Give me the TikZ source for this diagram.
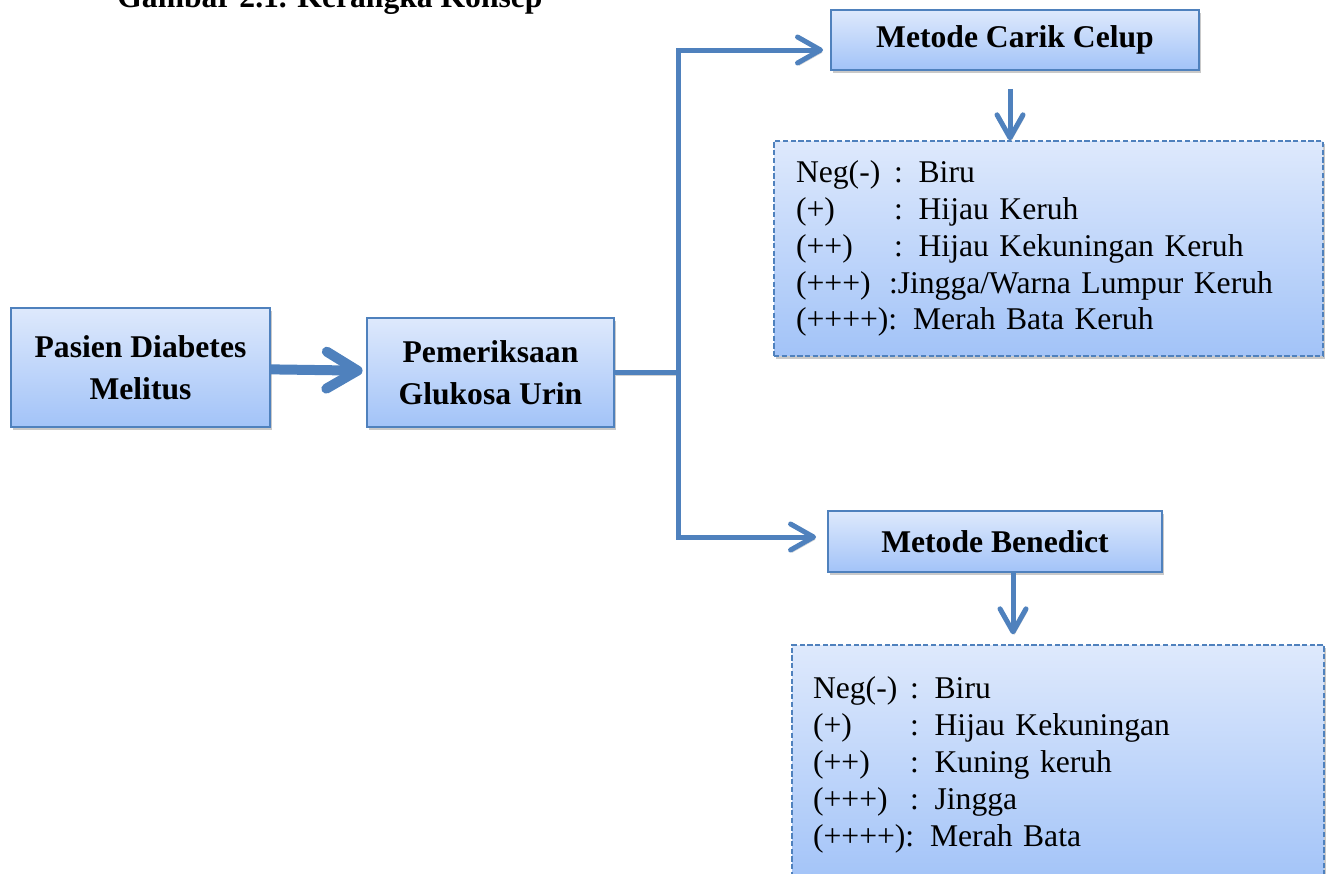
\documentclass[tikz,border=0pt]{standalone}
\usepackage{fontspec}
\setmainfont{Liberation Serif}
\usepackage{xcolor}
\usepackage{tikz}
\usetikzlibrary{arrows.meta, positioning, calc, shadows}
\definecolor{linecol}{RGB}{79, 129, 189}
\definecolor{boxtop}{RGB}{222, 233, 252}
\definecolor{boxbot}{RGB}{162, 195, 248}
\newcommand{\hasilrow}[3][1.96cm]{\makebox[#1][l]{#2}#3\\}

\begin{document}
\begin{tikzpicture}[
    x=0.02cm, y=-0.02cm,
    box/.style={draw=linecol, line width=1.1pt, top color=boxtop, bottom color=boxbot, align=center,
        font=\fontsize{18}{24}\selectfont\bfseries, inner sep=0pt,
        drop shadow={shadow xshift=1.2pt, shadow yshift=-1.8pt, opacity=0.3, fill=black!70}},
    hasil/.style={box, dashed, dash pattern=on 3pt off 1.4pt, line width=0.8pt, align=left,
        font=\fontsize{18}{21}\selectfont, inner ysep=0pt},
    conn/.style={draw=linecol, line width=0.1cm, line join=miter,
        preaction={draw=black!18, transform canvas={shift={(0.8pt,-1.4pt)}}}},
    arrow/.style={conn, -{Straight Barb[length=0.46cm, width=0.52cm, round]}},
    bigarrow/.style={conn, line width=0.2cm, -{Straight Barb[length=0.62cm, width=0.74cm, round]}}
]
    \useasboundingbox (0,0) rectangle (1332,873);

    % Title (cut by the page edge)
    \node[anchor=base west, inner sep=0pt, font=\fontsize{18}{21}\selectfont\bfseries] (judul) at (117,7) {Gambar 2.1. Kerangka Konsep};

    % Main entities
    \node[box, minimum width=5.18cm, minimum height=2.38cm] (pasien) at (140.5,367.5) {Pasien Diabetes\\Melitus};
    \node[box, minimum width=4.94cm, minimum height=2.18cm] (periksa) at (490.5,372.5) {Pemeriksaan\\Glukosa Urin};
    \node[box, minimum width=7.36cm, minimum height=1.2cm] (carik) at (1015,40) {Metode Carik Celup};
    \node[box, minimum width=6.68cm, minimum height=1.22cm] (benedict) at (995,541.5) {Metode Benedict};

    % Results
    \node[hasil, minimum width=10.98cm, minimum height=4.3cm, inner xsep=0.44cm, text width=10.1cm] (hasil1) at (1048.5,248.5) {%
        \hasilrow{Neg(-)}{: Biru}
        \hasilrow{(+)}{: Hijau Keruh}
        \hasilrow{(++)}{: Hijau Kekuningan Keruh}
        \hasilrow[1.86cm]{(+++)}{:Jingga/Warna Lumpur Keruh}
        (++++): Merah Bata Keruh};
    \node[hasil, minimum width=10.64cm, minimum height=4.8cm, inner xsep=0.42cm, text width=9.8cm] (hasil2) at (1058,765) {%
        \hasilrow[1.94cm]{Neg(-)}{: Biru}
        \hasilrow[1.94cm]{(+)}{: Hijau Kekuningan}
        \hasilrow[1.94cm]{(++)}{: Kuning keruh}
        \hasilrow[1.94cm]{(+++)}{: Jingga}
        (++++): Merah Bata};

    % Relationships
    \coordinate (cabang) at (678,372.5);
    \draw[bigarrow, shorten >=2pt] (pasien) -- (periksa);
    \draw[conn] (periksa.east) -- (cabang);
    \draw[arrow, shorten >=4pt] (cabang) |- ([yshift=-0.2cm]carik.west);
    \draw[arrow, shorten >=0.22cm] (cabang) |- ([yshift=0.09cm]benedict.west);
    \draw[arrow, shorten <=0.36cm] ([xshift=-0.1cm]carik.south) -- ([xshift=-0.1cm]carik.south |- hasil1.north);
    \draw[arrow, shorten >=0.2cm] ([xshift=0.36cm]benedict.south) -- ([xshift=0.36cm]benedict.south |- hasil2.north);
\end{tikzpicture}
\end{document}
